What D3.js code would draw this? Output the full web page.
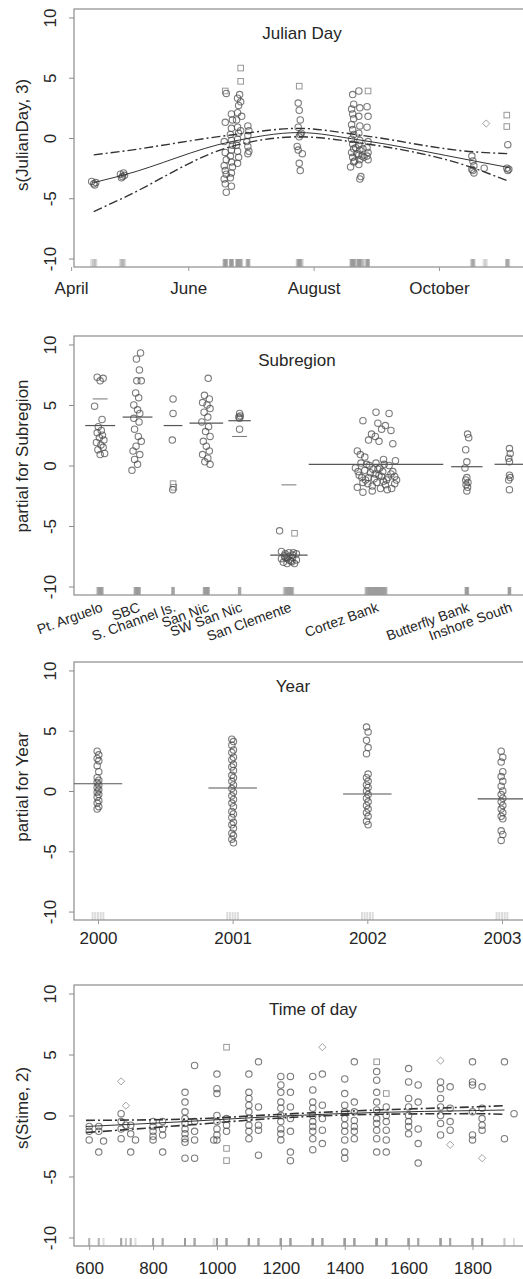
<!DOCTYPE html>
<html><head><meta charset="utf-8">
<script src="https://cdn.jsdelivr.net/npm/d3@7"></script>
<style>
body{margin:0;background:#fff}
text{font-family:"Liberation Sans",Arial,Helvetica,sans-serif;fill:#262626}
</style>
</head><body>
<svg id="c" width="523" height="1279"></svg>
<script>
// ---------------- DATA ----------------
// Panel 1: Julian day
const monthLabels = ["April","June","August","October"];
const monthDays = [95,152,213,274];
const julianPts = [
 [105,-3.6],[106,-3.8],[107,-3.7],[106.5,-3.9],
 [119,-3.0],[120,-3.2],[121,-3.1],[120.5,-2.9],[119.5,-3.3],
 [170,3.9,"s"],[170.5,3.7],[170,1.3],[169.5,-0.3],[170,-1.2],[170.5,-1.8],[169.5,-2.3],[170,-2.7],[170.5,-3.0],[169.5,-3.4],[170,-3.8],[170.5,-4.5],
 [173,2.0],[173.5,1.5],[173,0.8],[172.5,0.3],[173,-0.2],[173.5,-0.6],[173,-1.0],[172.5,-1.5],[173,-2.0],[173.5,-2.4],[173,-2.9],[172.5,-3.3],[173,-4.0],
 [176,3.3],[176.5,2.7],[176,2.1],[175.5,1.5],[176,0.9],[176.5,0.4],[176,-0.1],[175.5,-0.6],[176,-1.1],[176.5,-1.6],[176,-2.1],
 [177.5,5.8,"s"],[177.5,4.7,"s"],[177,3.6],[177.5,3.0],[178,1.8],[177.5,0.6],
 [181,1.0],[181.5,0.6],[181,0.2],[180.5,-0.3],[181,-0.7],[181.5,-1.1],[181,-1.3],
 [206,4.3,"s"],[205.5,2.9],[206,2.3],[206.5,1.5],[205.5,0.9],[206,0.1],[206.5,0.3],[205,-0.7],[205.5,-1.0],[206,-2.1],[206.5,-2.7],[207.5,-1.3],[207,0.4],
 [232,3.6],[232.5,2.8],[231.5,2.4],[232,2.0],[232.5,1.6],[231.5,1.1],[232,0.7],[232.5,0.3],[231.5,-0.1],[232,-0.5],[232.5,-0.9],[231.5,-1.2],[232,-1.6],[232.5,-2.0],[231,-2.4],
 [235,3.9],[235.5,2.5],[235,1.8],[235.5,1.0],[235,0.4],[235.5,-0.2],[235,-0.6],[235.5,-1.0],[235,-1.4],[235.5,-1.8],[235,-2.2],[236,-3.2],[235.5,-3.4],
 [233.5,-0.8],[234,-1.3],[236.5,-1.5],[237,-0.9],[233,-1.9],[237.5,-1.6],
 [239.5,3.9,"s"],[239,2.6],[239.5,1.8],[239,0.9],[239.5,-0.3],[239,-0.8],[239.5,-1.2],[239,-1.5],[239.5,-1.8],
 [290,-1.5],[290.5,-1.9],[291,-2.3],[290,-2.6],[291,-2.9],[290.5,-2.7],[297,1.2,"d"],[296,-2.5],
 [307,-2.5],[307.5,-2.7],[308,-2.6],[307,1.9,"s"],[307,0.95,"s"],[307.5,-0.55]
];
const julianCurveX  = [106, 120, 173, 206, 235, 291, 308];
const julianFit     = [-3.7,-3.1,-0.3, 0.45,-0.15,-1.9,-2.45];
const julianUpper   = [-1.4,-1.1, 0.25,0.8, 0.25,-1.15,-1.3];
const julianLower   = [-6.1,-5.0,-0.7, 0.1,-0.4,-2.5,-3.6];

// Panel 2: Subregion
const subregions = ["Pt. Arguelo","SBC","S. Channel Is.","San Nic","SW San Nic","San Clemente","Cortez Bank","Butterfly Bank","Inshore South"];
const subPos  = [1, 2, 2.95, 3.84, 4.73, 6.05, 8.38, 10.81, 11.95];
const subFit  = [3.3, 4.0, 3.3, 3.5, 3.7, -7.4, 0.1, -0.1, 0.1];
const subHalf = [0.4, 0.4, 0.25, 0.45, 0.3, 0.5, 1.8, 0.42, 0.4];
const subSeLines = [[0,5.5],[5,-1.6],[4,2.4]]; // [category, value]
const subPts = [
 [0,-0.08,7.3],[0,0.0,7.0],[0,0.08,7.2],[0,-0.15,4.9],[0,0.05,3.8],[0,-0.05,3.2],[0,0.03,2.9],[0,-0.08,2.7],[0,0.06,2.5],[0,-0.02,2.3],[0,0.1,2.1],[0,-0.1,1.9],[0,0.02,1.7],[0,0.08,1.5],[0,-0.06,1.3],[0,0.12,1.0],[0,0.0,0.9],
 [1,0.08,9.3],[1,-0.03,8.8],[1,0.05,7.9],[1,-0.02,7.0],[1,0.1,7.0],[1,-0.05,6.0],[1,0.03,5.6],[1,-0.1,5.0],[1,0.0,4.6],[1,0.06,4.3],[1,-0.1,3.9],[1,0.04,3.6],[1,-0.08,3.0],[1,0.02,2.4],[1,0.1,2.0],[1,-0.04,1.6],[1,-0.12,1.2],[1,0.06,0.9],[1,-0.08,0.5],[1,0.0,0.1],[1,-0.15,-0.4],
 [2,0.0,5.5],[2,0.0,4.3],[2,-0.02,2.1],[2,0.0,-1.5,"s"],[2,0.02,-1.8,"s"],[2,-0.01,-2.0],
 [3,0.05,7.2],[3,-0.05,5.8],[3,0.08,5.5],[3,-0.1,5.2],[3,0.02,5.0],[3,0.1,4.7],[3,-0.06,4.4],[3,0.04,4.0],[3,-0.12,3.6],[3,0.06,3.2],[3,-0.02,2.8],[3,0.1,2.4],[3,-0.08,2.0],[3,0.0,1.6],[3,0.08,1.2],[3,-0.1,0.9],[3,0.04,0.6],[3,-0.04,0.3],[3,0.1,0.1],
 [4,0,4.3],[4,0.02,4.1],[4,-0.02,4.0],[4,0,3.9],[4,0,3.0],
 [5,-0.25,-5.4],[5,0.15,-5.6,"s"],[5,-0.2,-7.1],[5,-0.1,-7.3],[5,0,-7.2],[5,0.1,-7.4],[5,0.2,-7.3],[5,-0.2,-7.7],[5,-0.1,-7.6],[5,0,-7.8],[5,0.1,-7.6],[5,0.2,-7.8],[5,-0.15,-8.0],[5,-0.05,-8.1],[5,0.05,-7.9],[5,0.15,-8.1],[5,0,-7.5],
 [5,-0.12,-7.45],[5,0.08,-7.95],[5,-0.05,-7.65],[5,0.12,-7.2],
 [6,0.0,4.4],[6,0.35,4.3],[6,-0.35,3.7],[6,0.05,3.5],[6,0.25,3.3],[6,0.15,3.0],[6,0.4,2.9],[6,-0.12,2.6],[6,-0.02,2.4],[6,-0.2,2.1],[6,0.08,2.0],[6,0.45,1.8],[6,-0.5,1.2],[6,-0.42,0.9],[6,-0.3,0.7],[6,0.2,0.5],[6,0.52,0.4],
 [6,-0.55,-0.2],[6,-0.45,-0.8],[6,-0.35,-1.4],[6,-0.25,0.1],[6,-0.15,-0.6],[6,-0.05,-1.1],[6,0.05,-0.3],[6,0.15,-0.9],[6,0.25,-1.6],[6,0.35,0.0],[6,0.45,-0.5],[6,0.55,-1.2],
 [6,-0.5,-1.8],[6,-0.4,0.2],[6,-0.3,-0.4],[6,-0.2,-1.0],[6,-0.1,-1.7],[6,0.0,0.2],[6,0.1,-0.2],[6,0.2,-1.3],[6,0.3,-2.0],[6,0.4,-0.7],[6,0.5,-1.5],
 [6,-0.35,-2.2],[6,-0.1,-2.1],[6,0.12,-1.9],[6,-0.28,-1.2],[6,0.32,-1.0],[6,-0.02,-0.7],
 [6,-0.48,-0.5],[6,-0.38,-1.0],[6,-0.22,-1.5],[6,-0.08,-0.3],[6,0.02,-1.4],[6,0.18,-0.5],[6,0.28,-1.2],[6,0.42,-1.9],[6,0.5,-0.9],[6,-0.18,0.0],[6,0.08,-0.8],[6,0.22,0.1],
 [7,0.02,2.6],[7,0.05,2.3],[7,-0.03,1.3],[7,0.0,0.3],[7,-0.05,-0.2],[7,0.0,-1.0],[7,-0.03,-1.2],[7,0.03,-1.4],[7,-0.02,-1.6],[7,0.02,-1.8],[7,0.0,-2.1],
 [8,0,1.4],[8,0.02,1.0],[8,-0.02,0.6],[8,0,0.3],[8,0,-0.8],[8,0.02,-1.0],[8,-0.02,-1.2],[8,0,-2.0]
];

// Panel 3: Year
const years = [2000, 2001, 2002, 2003];
const yearFit = [0.6, 0.25, -0.25, -0.65];
const yearPts = {
 2000: [3.3,3.0,2.7,2.5,2.1,1.6,1.1,0.9,0.7,0.5,0.3,0.1,-0.1,-0.3,-0.5,-0.8,-1.0,-1.3,-1.5],
 2001: [4.3,4.1,3.8,3.4,3.2,2.8,2.6,2.2,2.0,1.7,1.3,1.1,0.8,0.5,0.2,-0.1,-0.4,-0.7,-1.0,-1.3,-1.7,-1.9,-2.2,-2.6,-2.8,-3.1,-3.5,-3.7,-4.0,-4.3],
 2002: [5.3,4.9,4.2,3.6,3.1,1.4,1.1,0.8,0.5,0.3,0.0,-0.3,-0.6,-0.9,-1.2,-1.5,-1.8,-2.1,-2.5,-2.8],
 2003: [3.3,2.8,2.4,1.6,1.2,0.8,0.4,0.0,-0.3,-0.6,-0.9,-1.2,-1.5,-1.8,-2.1,-2.3,-3.3,-3.6,-4.1]
};

// Panel 4: Time of day (HHMM)
const timeTicks = [600,800,1000,1200,1400,1600,1800];
const timePts = [
 [600,-0.9],[600,-2.0],[600,-1.3],[630,-0.9],[630,-3.0],[630,-1.3],[645,-2.1],
 [700,2.8,"d"],[700,0.15],[700,-0.5],[700,-1.1],[700,-1.9],[715,0.8,"d"],[715,-0.8],[730,-3.0],[730,-0.8],[730,-1.5],[745,-2.0],
 [800,-0.5],[800,-0.9],[800,-1.3],[800,-1.7],[800,-2.0],[830,-3.0],[830,-0.5],[830,-1.1],[830,-1.6],
 [900,1.9],[900,1.1],[900,0.3],[900,-0.25],[900,-0.65],[900,-1.1],[900,-1.5],[900,-1.9],[900,-2.2],[900,-3.5],
 [930,4.1],[930,-0.5],[930,-1.3],[930,-2.0],[930,-3.5],[990,-2.0],
 [1000,3.4],[1000,2.2],[1000,1.8],[1000,0.0],[1000,-0.5],[1000,-1.1],[1000,-1.6],[1000,-2.0],
 [1030,5.6,"s"],[1030,-0.25],[1030,-0.8],[1030,-1.3],[1030,-2.7,"s"],[1030,-3.7,"s"],
 [1100,3.4],[1100,1.9],[1100,1.4],[1100,0.85],[1100,0.3],[1100,-0.25],[1100,-0.8],[1100,-1.3],[1100,-1.9],
 [1130,4.4],[1130,0.7],[1130,-0.8],[1130,-1.2],[1130,-3.25],
 [1200,3.2],[1200,2.5],[1200,1.9],[1200,1.1],[1200,0.6],[1200,0.0],[1200,-0.5],[1200,-1.1],[1200,-1.5],[1200,-2.0],
 [1230,3.2],[1230,1.9],[1230,0.7],[1230,-0.25],[1230,-1.3],[1230,-3.0],[1230,-3.7],
 [1300,3.2],[1300,2.1],[1300,1.1],[1300,0.6],[1300,0.0],[1300,-0.5],[1300,-0.9],[1300,-1.3],[1300,-1.9],[1300,-2.8],
 [1330,5.6,"d"],[1330,3.4],[1330,0.85],[1330,-0.25],[1330,-1.2],[1330,-2.3],
 [1400,3.0],[1400,1.8],[1400,0.85],[1400,0.3],[1400,-0.25],[1400,-0.8],[1400,-1.3],[1400,-2.0],[1400,-3.0],[1400,-3.5],
 [1430,4.4],[1430,1.1],[1430,0.3],[1430,-0.4],[1430,-0.9],[1430,-1.3],[1430,-1.9],
 [1500,4.4,"s"],[1500,3.6],[1500,2.9],[1500,1.9],[1500,1.1],[1500,0.45],[1500,-0.25],[1500,-0.65],[1500,-1.2],[1500,-1.9],[1500,-3.0],
 [1530,1.8,"s"],[1530,0.7],[1530,0.0],[1530,-0.5],[1530,-1.2],[1530,-2.0],[1530,-3.0],
 [1600,3.85],[1600,2.75],[1600,1.4],[1600,0.7],[1600,0.0],[1600,-0.5],[1600,-0.9],[1600,-1.5],
 [1630,2.5],[1630,1.1],[1630,-1.1],[1630,-2.3],[1630,-3.9],
 [1700,4.5,"d"],[1700,2.75],[1700,2.2],[1700,1.4],[1700,0.7],[1700,0.0],[1700,-0.65],[1700,-1.6],
 [1730,2.35],[1730,0.6],[1730,-0.5],[1730,-1.2],[1730,-2.4,"d"],
 [1800,4.4],[1800,2.75],[1800,2.5],[1800,0.3],[1800,-1.6],[1800,-2.0],
 [1830,2.35],[1830,0.6],[1830,-0.25],[1830,-0.8],[1830,-1.2],[1830,-3.5,"d"],
 [1900,4.4],[1900,-1.9],[1930,0.15]
];
const timeCurveX = [590, 900, 1200, 1500, 1800, 1900];
const timeFit    = [-0.9,-0.5,-0.05,0.25,0.4,0.45];
const timeLower  = [-1.4,-0.8,-0.2, 0.1,0.15,0.1];
const timeUpper  = [-0.4,-0.3, 0.1, 0.45,0.7,0.8];

// ---------------- DRAWING ----------------
const svg = d3.select("#c");
const yTicks = [-10,-5,0,5,10];
const PT = {stroke:"#4a4a4a", op:0.72};

function makePanel(o, idx){
  const g = svg.append("g");
  const y = d3.scaleLinear().domain([-10.7,10.7]).range([o.bottom,o.top]);
  const x = d3.scaleLinear().domain(o.xDomain).range([o.left,o.right]);
  const cid = "clip"+idx;
  svg.append("clipPath").attr("id",cid).append("rect")
    .attr("x",o.left).attr("y",o.top).attr("width",o.right-o.left).attr("height",o.bottom-o.top);
  const ya = g.append("g").attr("transform",`translate(${o.left},0)`)
    .call(d3.axisLeft(y).tickValues(yTicks).tickSize(5).tickFormat(d=>String(d)));
  ya.attr("font-family",null).attr("font-size",null);
  ya.select(".domain").remove();
  ya.selectAll("line").attr("stroke","#8a8a8a");
  ya.selectAll("text").attr("transform","rotate(-90)").attr("x",0).attr("y",-18).attr("dy",0)
    .attr("text-anchor","middle").style("font-size","17px").attr("fill","#262626");
  g.append("rect").attr("x",o.left).attr("y",o.top).attr("width",o.right-o.left).attr("height",o.bottom-o.top)
    .attr("fill","none").attr("stroke","#8c8c8c").attr("stroke-width",1.2);
  g.append("text").attr("x",o.titleX).attr("y",o.top+30).attr("text-anchor","middle").style("font-size","17px").text(o.title);
  g.append("text").attr("transform",`translate(28,${o.ylabY}) rotate(-90)`).attr("text-anchor","middle")
    .style("font-size","17px").text(o.ylab);
  const plot = g.append("g").attr("clip-path",`url(#${cid})`);
  return {g, plot, x, y, o};
}

function symbol(sel, px, py, shape){
  if(shape==="s"){
    sel.append("rect").attr("x",px-2.8).attr("y",py-2.8).attr("width",5.6).attr("height",5.6)
      .attr("fill","none").attr("stroke",PT.stroke).attr("stroke-opacity",PT.op*0.8);
  } else if(shape==="d"){
    sel.append("path").attr("d",`M${px},${py-3.6}L${px+3.6},${py}L${px},${py+3.6}L${px-3.6},${py}Z`)
      .attr("fill","none").attr("stroke",PT.stroke).attr("stroke-opacity",PT.op*0.7);
  } else {
    sel.append("circle").attr("cx",px).attr("cy",py).attr("r",3.2)
      .attr("fill","none").attr("stroke",PT.stroke).attr("stroke-opacity",PT.op).attr("stroke-width",1.1);
  }
}

function rug(P, xs, w){
  const b = P.o.bottom;
  P.plot.append("g").selectAll("line").data(xs).join("line")
    .attr("x1",d=>P.x(d)).attr("x2",d=>P.x(d)).attr("y1",b).attr("y2",b-8)
    .attr("stroke","#9a9a9a").attr("stroke-opacity",0.35).attr("stroke-width",w||2);
}

function curve(P, xs, ys, dash, width){
  const line = d3.line().x((d,i)=>P.x(xs[i])).y(d=>P.y(d)).curve(d3.curveMonotoneX);
  P.plot.append("path").attr("d",line(ys)).attr("fill","none").attr("stroke","#333")
    .attr("stroke-width",width||1).attr("stroke-dasharray",dash||null);
}

// ----- Panel 1 -----
const P1 = makePanel({top:9,bottom:267,left:74,right:530,xDomain:[96.4,318.3],
  title:"Julian Day",titleX:302,ylab:"s(JulianDay, 3)",ylabY:135},1);
{
  const xa = P1.g.append("g").attr("transform",`translate(0,${P1.o.bottom})`)
    .call(d3.axisBottom(P1.x).tickValues(monthDays).tickSize(4).tickFormat((d,i)=>monthLabels[i]));
  xa.attr("font-family",null).attr("font-size",null);
  xa.select(".domain").remove();
  xa.selectAll("line").attr("stroke","#999");
  xa.selectAll("text").attr("y",15).style("font-size","17px").attr("fill","#262626");
  rug(P1, julianPts.map(d=>d[0]), 3);
  julianPts.forEach(d=>symbol(P1.plot, P1.x(d[0]), P1.y(d[1]), d[2]));
  curve(P1, julianCurveX, julianFit, null, 1);
  curve(P1, julianCurveX, julianUpper, "9,3,2,3", 1.4);
  curve(P1, julianCurveX, julianLower, "9,3,2,3", 1.4);
}

// ----- Panel 2 -----
const P2 = makePanel({top:336,bottom:595,left:74,right:530,xDomain:[0.3,12.5],
  title:"Subregion",titleX:297,ylab:"partial for Subregion",ylabY:456},2);
{
  const xa = P2.g.append("g").attr("transform",`translate(0,${P2.o.bottom})`)
    .call(d3.axisBottom(P2.x).tickValues(subPos).tickSize(0).tickFormat((d,i)=>subregions[i]));
  xa.attr("font-family",null).attr("font-size",null);
  xa.select(".domain").remove();
  xa.selectAll("text").attr("text-anchor","end").attr("dy",0)
    .attr("transform","translate(3,16) rotate(-20)").attr("x",0).attr("y",0)
    .style("font-size","14px").attr("fill","#262626");
  rug(P2, subPts.map(d=>subPos[d[0]]+d[1]*0.5), 3);
  subPts.forEach(d=>symbol(P2.plot, P2.x(subPos[d[0]]+d[1]), P2.y(d[2]), d[3]));
  subPos.forEach((p,i)=>{
    P2.plot.append("line").attr("x1",P2.x(p-subHalf[i])).attr("x2",P2.x(p+subHalf[i]))
      .attr("y1",P2.y(subFit[i])).attr("y2",P2.y(subFit[i])).attr("stroke","#555").attr("stroke-width",1.2);
  });
  subSeLines.forEach(([c,v])=>{
    P2.plot.append("line").attr("x1",P2.x(subPos[c]-0.2)).attr("x2",P2.x(subPos[c]+0.2))
      .attr("y1",P2.y(v)).attr("y2",P2.y(v)).attr("stroke","#777").attr("stroke-width",1);
  });
}

// ----- Panel 3 -----
const P3 = makePanel({top:662,bottom:920,left:74,right:530,xDomain:[1999.822,2003.208],
  title:"Year",titleX:293,ylab:"partial for Year",ylabY:787},3);
{
  const xa = P3.g.append("g").attr("transform",`translate(0,${P3.o.bottom})`)
    .call(d3.axisBottom(P3.x).tickValues(years).tickSize(4).tickFormat(d=>String(d)));
  xa.attr("font-family",null).attr("font-size",null);
  xa.select(".domain").remove();
  xa.selectAll("line").attr("stroke","#999");
  xa.selectAll("text").attr("y",12).style("font-size","17px").attr("fill","#262626");
  years.forEach((yr,i)=>{
    rug(P3, [yr-0.04,yr-0.02,yr,yr+0.02,yr+0.04], 2);
    yearPts[yr].forEach((v,j)=>symbol(P3.plot, P3.x(yr + (j%2? 0.006 : -0.006)), P3.y(v)));
    P3.plot.append("line").attr("x1",P3.x(yr-0.18)).attr("x2",P3.x(yr+0.18))
      .attr("y1",P3.y(yearFit[i])).attr("y2",P3.y(yearFit[i])).attr("stroke","#555").attr("stroke-width",1.2);
  });
}

// ----- Panel 4 -----
const P4 = makePanel({top:985,bottom:1246,left:74,right:530,xDomain:[552.5,1980],
  title:"Time of day",titleX:313,ylab:"s(Stime, 2)",ylabY:1108},4);
{
  const xa = P4.g.append("g").attr("transform",`translate(0,${P4.o.bottom})`)
    .call(d3.axisBottom(P4.x).tickValues(timeTicks).tickSize(4).tickFormat(d=>String(d)));
  xa.attr("font-family",null).attr("font-size",null);
  xa.select(".domain").remove();
  xa.selectAll("line").attr("stroke","#999");
  xa.selectAll("text").attr("y",16).style("font-size","17px").attr("fill","#262626");
  rug(P4, timePts.map(d=>d[0]), 2);
  timePts.forEach(d=>symbol(P4.plot, P4.x(d[0]), P4.y(d[1]), d[2]));
  curve(P4, timeCurveX, timeFit, null, 1);
  curve(P4, timeCurveX, timeUpper, "9,3,2,3", 1.6);
  curve(P4, timeCurveX, timeLower, "9,3,2,3", 1.6);
}
</script>
</body></html>
